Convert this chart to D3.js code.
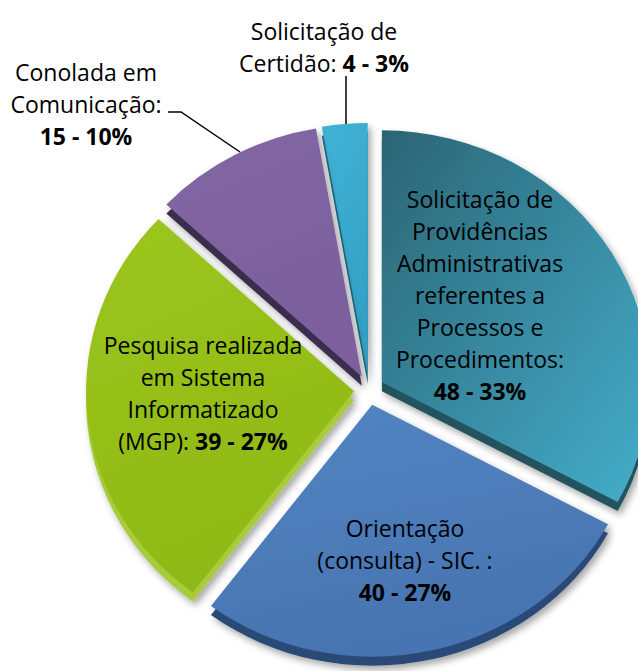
<!DOCTYPE html>
<html lang="pt">
<head>
<meta charset="utf-8">
<script src="https://cdn.jsdelivr.net/npm/d3@7"></script>
<style>
  html, body { margin: 0; padding: 0; background: #ffffff; }
  svg { display: block; }
  text { font-family: "Open Sans", "Noto Sans", sans-serif; fill: #000; }
</style>
</head>
<body>
<svg id="chart" width="638" height="671"></svg>
<script>
// Atendimentos por tipo
const categories = [
  "Solicitação de Providências Administrativas referentes a Processos e Procedimentos",
  "Orientação (consulta) - SIC.",
  "Pesquisa realizada em Sistema Informatizado (MGP)",
  "Conolada em Comunicação",
  "Solicitação de Certidão"
];
const values = [48, 40, 39, 15, 4];

// Label text, split into lines; the value line is appended from the data
const labelLines = [
  ["Solicitação de", "Providências", "Administrativas", "referentes a", "Processos e", "Procedimentos:"],
  ["Orientação", "(consulta) - SIC. :"],
  ["Pesquisa realizada", "em Sistema", "Informatizado"],
  ["Conolada em", "Comunicação:"],
  ["Solicitação de"]
];
// Prefix written on the same line as the value (empty = value on its own line)
const valuePrefix = ["", "", "(MGP): ", "", "Certidão: "];

// Face, side and gradient colours per slice
const faceTop = ["#2b6575", "#5385c3", "#9bc61f", "#8367a3", "#40b3d6"];
const faceBottom = ["#44aecb", "#4774b1", "#8fb912", "#7b5f9c", "#32a0c4"];
const sideColor = ["#22525f", "#2c4a77", "#a8cb3e", "#3a2d4e", "#1f6a83"];

// Layout
const cx = 369, cy = 390, rx = 268, ry = 252, explode = 15, depth = 9;
const lineH = 32;
const labelAnchor = [
  [480, 208], [405, 537], [203, 354], [86, 81], [324, 40]
];

const svg = d3.select("#chart");
const defs = svg.append("defs");

const shadow = defs.append("filter").attr("id", "shadow")
  .attr("x", "-20%").attr("y", "-20%").attr("width", "140%").attr("height", "140%");
shadow.append("feDropShadow")
  .attr("dx", 3).attr("dy", 4).attr("stdDeviation", 3.5)
  .attr("flood-color", "#000").attr("flood-opacity", 0.35);

values.forEach((v, i) => {
  const g = defs.append("linearGradient").attr("id", "grad" + i)
    .attr("x1", 0).attr("y1", 0).attr("x2", i === 0 ? 1 : 0.3).attr("y2", 1);
  g.append("stop").attr("offset", "0%").attr("stop-color", faceTop[i]);
  g.append("stop").attr("offset", "100%").attr("stop-color", faceBottom[i]);
});

const total = d3.sum(values);
const pie = d3.pie().sort(null).value(d => d).startAngle(0).endAngle(2 * Math.PI);
const arcs = pie(values);
const arc = d3.arc().innerRadius(0).outerRadius(rx);

// draw back-to-front so nearer slices overlap the farther ones
const drawOrder = [4, 3, 0, 2, 1];

const slices = svg.append("g").attr("class", "slices");
drawOrder.forEach(i => {
  const a = arcs[i];
  const mid = (a.startAngle + a.endAngle) / 2;
  const ox = cx + explode * Math.sin(mid);
  const oy = cy - explode * Math.cos(mid);
  const s = ry / rx;
  const g = slices.append("g").attr("filter", "url(#shadow)");
  g.append("path")
    .attr("d", arc(a))
    .attr("transform", `translate(${ox},${oy + depth}) scale(1,${s})`)
    .attr("fill", sideColor[i]);
  g.append("path")
    .attr("d", arc(a))
    .attr("transform", `translate(${ox},${oy}) scale(1,${s})`)
    .attr("fill", `url(#grad${i})`);
});

// Leader lines for the outside labels
const leaders = svg.append("g").attr("fill", "none").attr("stroke", "#000").attr("stroke-width", 1.5);
leaders.append("path").attr("d", d3.line()([[346, 76], [346, 124]]));
leaders.append("path").attr("d", d3.line()([[168, 112], [181, 112], [240, 152]]));

// Labels
const fmtPct = v => Math.round(100 * v / total) + "%";
const labels = svg.append("g").attr("font-size", 23).attr("text-anchor", "middle");
values.forEach((v, i) => {
  const [x, y] = labelAnchor[i];
  const t = labels.append("text").attr("x", x).attr("y", y);
  labelLines[i].forEach((ln, k) => {
    t.append("tspan").attr("x", x).attr("y", y + k * lineH).text(ln);
  });
  const k = labelLines[i].length;
  const last = t.append("tspan").attr("x", x).attr("y", y + k * lineH);
  if (valuePrefix[i]) last.append("tspan").text(valuePrefix[i]);
  last.append("tspan").attr("font-weight", "bold").text(v + " - " + fmtPct(v));
});
</script>
</body>
</html>
